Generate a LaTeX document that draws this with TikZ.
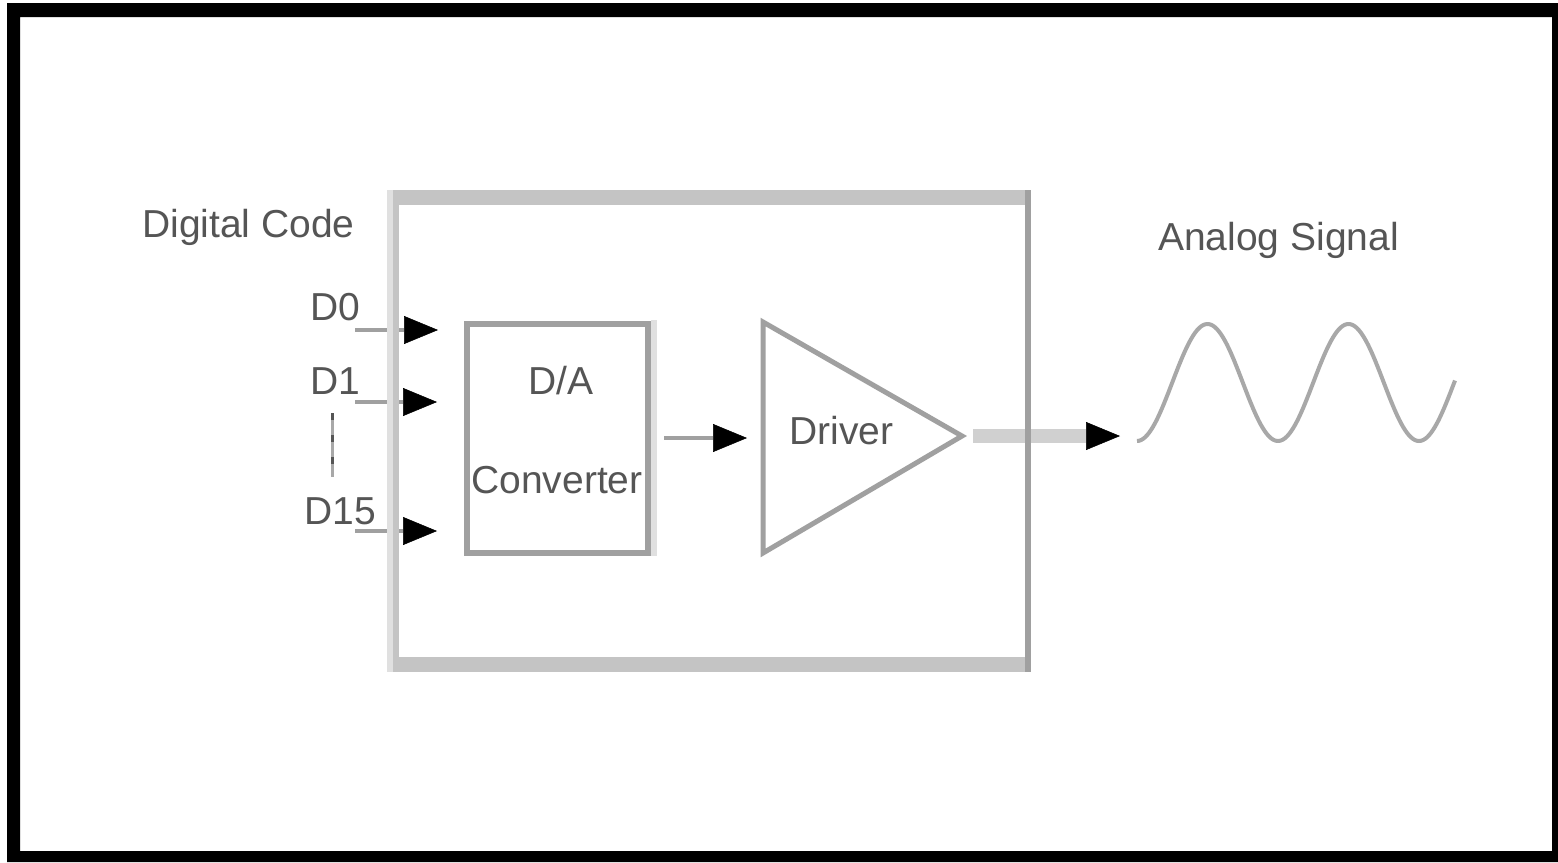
\documentclass[tikz,border=0pt]{standalone}
\usepackage{fontspec}
\setmainfont{Liberation Sans}
\usetikzlibrary{arrows.meta}
\definecolor{txt}{HTML}{555555}
\definecolor{ln}{HTML}{A0A0A0}
\definecolor{frameA}{HTML}{C4C4C4}
\definecolor{frameB}{HTML}{E0E0E0}
\definecolor{outln}{HTML}{D0D0D0}
\definecolor{wavec}{HTML}{A8A8A8}
\begin{document}
\begin{tikzpicture}[x=1pt,y=-1pt,
  lbl/.style={text=txt, font=\fontsize{39}{47}\selectfont, inner sep=0pt, anchor=base west},
  clbl/.style={text=txt, font=\fontsize{39}{47}\selectfont, inner sep=0pt, anchor=base},
  tipk/.style={-{Triangle[length=34pt,width=28pt,color=black,line width=0.5pt]}},
  conn/.style={draw=ln, line width=4pt, tipk},
  blockbox/.style={draw=ln, line width=6pt, inner sep=0pt, outer sep=0pt},
]
\useasboundingbox (0,0) rectangle (1558,862);
\fill[white] (0,0) rectangle (1558,862);
\fill[black, even odd rule] (7,3) rectangle (1558,862) (20,17) rectangle (1552,851);

% labels
\node[lbl] (dc) at (142,237) {Digital Code};
\node[lbl] (as) at (1158,250) {Analog Signal};
\node[lbl] (d0) at (310,320) {D0};
\node[lbl] (d1) at (310,394) {D1};
\node[lbl] (d15) at (304,524) {D15};

% dashed ellipsis between D1 and D15
\draw[wavec, line width=3pt] (332,413) -- (332,477);
\draw[txt, line width=3pt, dash pattern=on 7pt off 15pt] (332,413) -- (332,477);

% D/A converter block
\node[blockbox, minimum width=181pt, minimum height=229pt] (da) at (557.5,438) {};
\draw[frameB, line width=6pt] (654,320) -- (654,556);
\node[clbl] (dat) at (561,394) {D/A};
\node[clbl] (cvt) at (557,493) {Converter};

% Driver triangle
\coordinate (drvin) at (763,438);
\coordinate (drvout) at (962,436);
\draw[ln, line width=5pt, line join=miter] (763,322) -- (drvout) -- (763,553) -- cycle;
\node[lbl] (drv) at (789,444) {Driver};

% input connectors
\coordinate (d0s) at (355,330);  \coordinate (d0e) at (438,330);
\coordinate (d1s) at (355,402);  \coordinate (d1e) at (437,402);
\coordinate (d15s) at (355,531); \coordinate (d15e) at (437,531);
\draw[conn] (d0s) -- (d0e);
\draw[conn] (d1s) -- (d1e);
\draw[conn] (d15s) -- (d15e);

% D/A -> Driver
\draw[conn, shorten <=16pt, shorten >=16pt] (da.east) -- (drvin);

% Driver -> output
\coordinate (outend) at (1120,436);
\draw[outln, line width=14pt, tipk, shorten <=11pt] (drvout) -- (outend);

% system frame
\fill[frameB] (387,190) rectangle (393,672);
\fill[frameA] (393,190) rectangle (399,672);
\fill[frameA] (393,190) rectangle (1031,205);
\fill[frameA] (393,657) rectangle (1031,672);
\fill[ln] (1025,190) rectangle (1031,672);

% analog signal wave
\draw[wavec, line width=4pt] plot[domain=0:318, samples=160, smooth] ({\x+1137}, {382.5+58.5*cos((\x/141)*360)});
\end{tikzpicture}
\end{document}
